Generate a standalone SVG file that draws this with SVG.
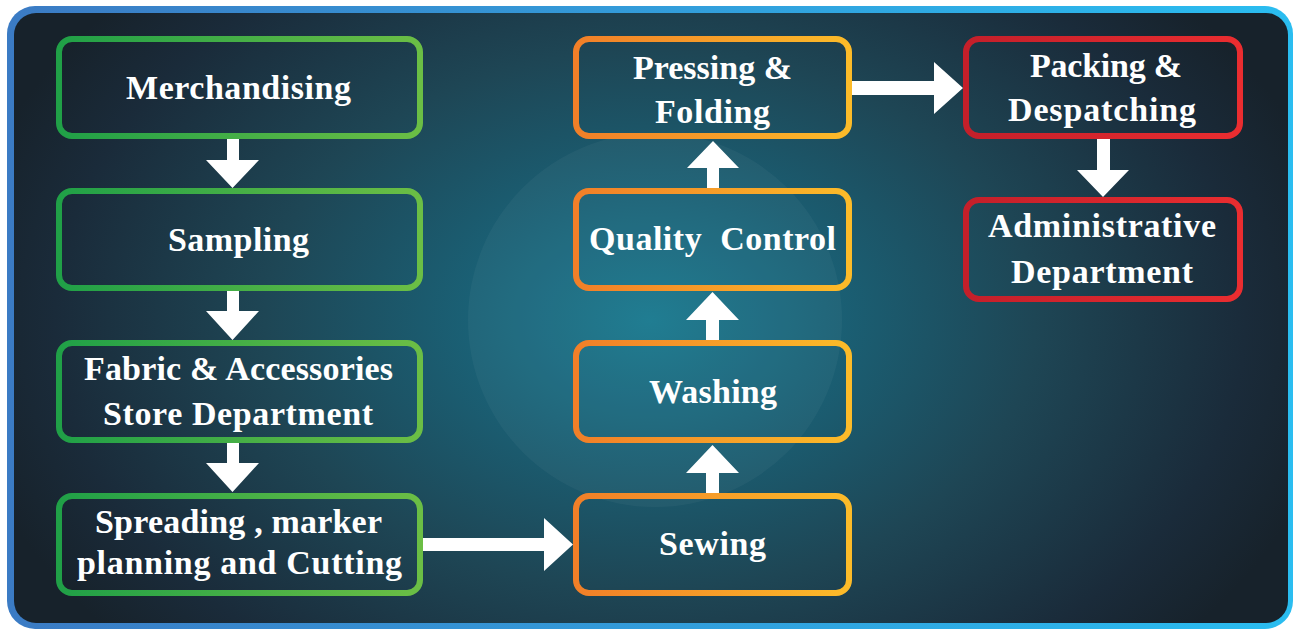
<svg xmlns="http://www.w3.org/2000/svg" width="1293" height="629" viewBox="0 0 1293 629">
  <defs>
    <linearGradient id="frame" x1="0" y1="0" x2="1" y2="0">
      <stop offset="0" stop-color="#3b7bc4"/>
      <stop offset="1" stop-color="#2abdf0"/>
    </linearGradient>
    <radialGradient id="bg" gradientUnits="userSpaceOnUse" cx="650" cy="320" r="700" gradientTransform="translate(650 320) scale(1 0.7) translate(-650 -320)">
      <stop offset="0" stop-color="#17788e"/>
      <stop offset="0.25" stop-color="#1a6176"/>
      <stop offset="0.55" stop-color="#1e4655"/>
      <stop offset="0.85" stop-color="#1a2b3a"/>
      <stop offset="1" stop-color="#17222b"/>
    </radialGradient>
    <linearGradient id="green" x1="0" y1="0" x2="1" y2="0">
      <stop offset="0" stop-color="#20a047"/>
      <stop offset="1" stop-color="#6bbe45"/>
    </linearGradient>
    <linearGradient id="orange" x1="0" y1="0" x2="1" y2="0">
      <stop offset="0" stop-color="#f17f28"/>
      <stop offset="1" stop-color="#fcbb29"/>
    </linearGradient>
    <linearGradient id="red" x1="0" y1="0" x2="1" y2="0">
      <stop offset="0" stop-color="#c41f2a"/>
      <stop offset="1" stop-color="#ea2d30"/>
    </linearGradient>
  </defs>
  <style>
    .box { fill: none; stroke-width: 6; }
    .g { stroke: url(#green); }
    .o { stroke: url(#orange); }
    .r { stroke: url(#red); }
    .lbl { font-family: "Liberation Serif", "DejaVu Serif", serif; font-weight: bold; font-size: 34px; fill: #ffffff; white-space: pre; }
    .arrow { fill: #ffffff; }
  </style>

  <!-- frame and background -->
  <rect x="7" y="6" width="1286" height="623" rx="28" fill="url(#frame)"/>
  <rect x="14" y="13" width="1274" height="610" rx="22" fill="url(#bg)"/>
  <circle cx="655" cy="320" r="187" fill="#ffffff" fill-opacity="0.04"/>

  <!-- connectors -->
  <g id="connectors" class="arrow">
    <polygon points="227,139 239,139 239,160 259,160 232.5,188 206,160 227,160"/>
    <polygon points="227,291 239,291 239,311 259,311 232.5,340 206,311 227,311"/>
    <polygon points="227,443 239,443 239,463 259,463 232.5,492 206,463 227,463"/>
    <polygon points="423,538 544,538 544,518 573,544.5 544,571 544,551 423,551"/>
    <polygon points="706,493 719,493 719,473 739,473 712.5,445 686,473 706,473"/>
    <polygon points="706,340 719,340 719,320 739,320 712.5,292 686,320 706,320"/>
    <polygon points="707,188 719,188 719,168 739,168 713,141 687,168 707,168"/>
    <polygon points="852,81 934,81 934,62 963,88 934,114 934,95 852,95"/>
    <polygon points="1097,139 1110,139 1110,170 1129,170 1103,197 1077,170 1097,170"/>
  </g>

  <!-- nodes -->
  <g id="merchandising">
    <rect class="box g" x="59" y="39" width="361" height="97" rx="13"/>
    <text class="lbl" x="126" y="99" textLength="225" lengthAdjust="spacing">Merchandising</text>
  </g>
  <g id="sampling">
    <rect class="box g" x="59" y="191" width="361" height="97" rx="13"/>
    <text class="lbl" x="168" y="251" textLength="141" lengthAdjust="spacing">Sampling</text>
  </g>
  <g id="fabric">
    <rect class="box g" x="59" y="343" width="361" height="97" rx="13"/>
    <text class="lbl" x="84" y="380" textLength="309" lengthAdjust="spacing">Fabric &amp; Accessories</text>
    <text class="lbl" x="103" y="425" textLength="270" lengthAdjust="spacing">Store Department</text>
  </g>
  <g id="spreading">
    <rect class="box g" x="59" y="496" width="361" height="97" rx="13"/>
    <text class="lbl" x="95" y="533" textLength="287" lengthAdjust="spacing">Spreading , marker</text>
    <text class="lbl" x="77" y="574" textLength="325" lengthAdjust="spacing">planning and Cutting</text>
  </g>
  <g id="sewing">
    <rect class="box o" x="576" y="496" width="273" height="97" rx="13"/>
    <text class="lbl" x="659" y="555" textLength="107" lengthAdjust="spacing">Sewing</text>
  </g>
  <g id="washing">
    <rect class="box o" x="576" y="343" width="273" height="97" rx="13"/>
    <text class="lbl" x="649" y="403" textLength="128" lengthAdjust="spacing">Washing</text>
  </g>
  <g id="quality-control">
    <rect class="box o" x="576" y="191" width="273" height="97" rx="13"/>
    <text class="lbl" x="589" y="250" textLength="247" lengthAdjust="spacing">Quality  Control</text>
  </g>
  <g id="pressing-folding">
    <rect class="box o" x="576" y="39" width="273" height="97" rx="13"/>
    <text class="lbl" x="633" y="79" textLength="159" lengthAdjust="spacing">Pressing &amp;</text>
    <text class="lbl" x="655" y="123" textLength="115" lengthAdjust="spacing">Folding</text>
  </g>
  <g id="packing-despatching">
    <rect class="box r" x="966" y="39" width="274" height="97" rx="13"/>
    <text class="lbl" x="1030" y="77" textLength="152" lengthAdjust="spacing">Packing &amp;</text>
    <text class="lbl" x="1008" y="121" textLength="188" lengthAdjust="spacing">Despatching</text>
  </g>
  <g id="administrative">
    <rect class="box r" x="966" y="200" width="274" height="99" rx="13"/>
    <text class="lbl" x="988" y="237" textLength="228" lengthAdjust="spacing">Administrative</text>
    <text class="lbl" x="1011" y="283" textLength="182" lengthAdjust="spacing">Department</text>
  </g>
</svg>
